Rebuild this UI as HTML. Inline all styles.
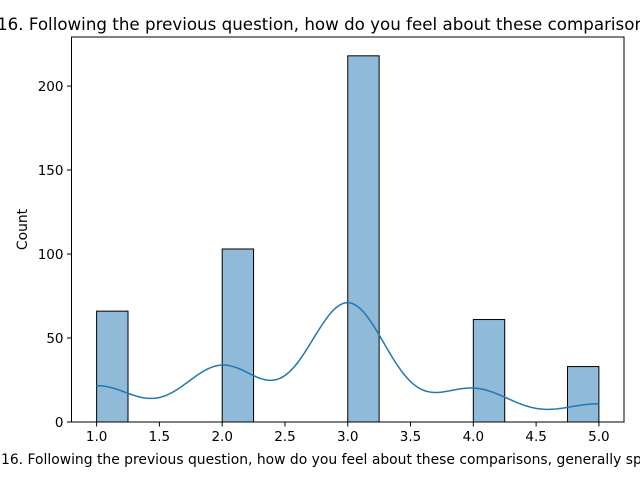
<!DOCTYPE html>
<html><head><meta charset="utf-8"><style>
body{margin:0;background:#fff}
svg{display:block;font-family:"DejaVu Sans","Liberation Sans",sans-serif}
</style></head><body>
<svg id="chart" width="640" height="480" viewBox="0 0 640 480" xmlns="http://www.w3.org/2000/svg">
<text x="-3" y="30" font-size="16.7" text-anchor="start" fill="#000">16. Following the previous question, how do you feel about these comparisons, generally speaking?</text>
<g id="plot"></g>
<text x="1" y="464" font-size="13.9" text-anchor="start" fill="#000">16. Following the previous question, how do you feel about these comparisons, generally speaking?</text>
<text transform="translate(27,229.5) rotate(-90)" font-size="13.9" text-anchor="middle" fill="#000">Count</text>
</svg>
<script>
const binEdgesStart = [1.0,1.25,1.5,1.75,2.0,2.25,2.5,2.75,3.0,3.25,3.5,3.75,4.0,4.25,4.5,4.75];
const binCounts = [66,0,0,0,103,0,0,0,218,0,0,0,61,0,0,33];
const responseValues = [1,2,3,4,5];
const responseCounts = [66,103,218,61,33];
const xTicks = [1.0,1.5,2.0,2.5,3.0,3.5,4.0,4.5,5.0];
const yTicks = [0,50,100,150,200];
const binWidth = 0.25;

const L=71.5,R=624,T=37,B=422;
const xmin=0.8,xmax=5.2,ymax=229.2;
const X=v=>L+(v-xmin)/(xmax-xmin)*(R-L);
const Y=v=>B-v/ymax*(B-T);
const NS="http://www.w3.org/2000/svg";
const g=document.getElementById('plot');
function mk(t,a){const e=document.createElementNS(NS,t);for(const k in a)e.setAttribute(k,a[k]);g.appendChild(e);return e;}

binCounts.forEach((c,i)=>{
  if(c<=0)return;
  const x0=X(binEdgesStart[i]),x1=X(binEdgesStart[i]+binWidth);
  const r=mk('rect',{x:x0,y:Y(c),width:x1-x0,height:Y(0)-Y(c),fill:'#8fbbd9',stroke:'#000','stroke-width':1});
  
  
});

const n=responseCounts.reduce((a,b)=>a+b,0);
const mean=responseValues.reduce((s,v,i)=>s+v*responseCounts[i],0)/n;
const varr=responseValues.reduce((s,v,i)=>s+responseCounts[i]*(v-mean)**2,0)/(n-1);
const bw=Math.sqrt(varr)*Math.pow(n,-0.2);
let d='';
for(let k=0;k<=200;k++){
  const x=responseValues[0]+(responseValues[responseValues.length-1]-responseValues[0])*k/200;
  let s=0;
  responseValues.forEach((v,i)=>{const z=(x-v)/bw;s+=responseCounts[i]*Math.exp(-0.5*z*z)/(bw*Math.sqrt(2*Math.PI));});
  const y=s*binWidth;
  d+=(k?'L':'M')+X(x).toFixed(2)+','+Y(y).toFixed(2);
}
const kde=mk('path',{d:d,fill:'none',stroke:'#1f77b4','stroke-width':1.5});



const frame=mk('rect',{x:L,y:T,width:R-L,height:B-T,fill:'none',stroke:'#000','stroke-width':1});



xTicks.forEach(v=>{
  mk('line',{x1:X(v),x2:X(v),y1:B,y2:B+4.5,stroke:'#000','stroke-width':1});
  const t=mk('text',{x:X(v),y:B+19,'font-size':13.5,'text-anchor':'middle',fill:'#000'});
  t.textContent=v.toFixed(1);
  
  
});
yTicks.forEach(v=>{
  mk('line',{x1:L-4.5,x2:L,y1:Y(v),y2:Y(v),stroke:'#000','stroke-width':1});
  const t=mk('text',{x:L-8,y:Y(v)+5,'font-size':13.5,'text-anchor':'end',fill:'#000'});
  t.textContent=v;
  
  
});
</script>
</body></html>
